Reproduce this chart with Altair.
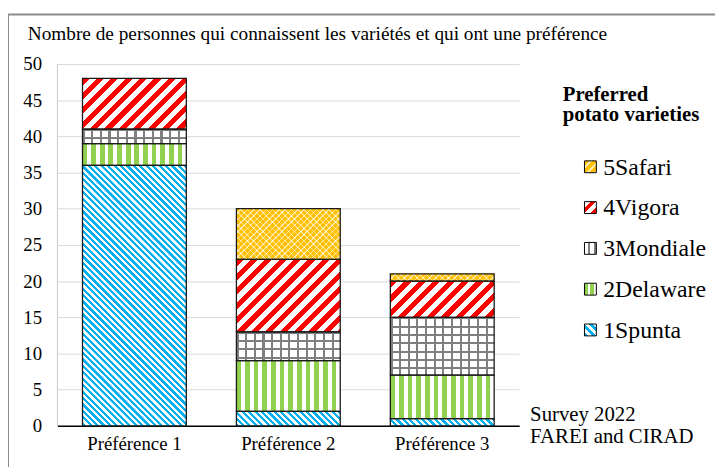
import altair as alt
import pandas as pd

# ---------------- data ----------------
prefs = ["Préférence 1", "Préférence 2", "Préférence 3"]
varieties = ["1Spunta", "2Delaware", "3Mondiale", "4Vigora", "5Safari"]
spunta = [36, 2, 1]
delaware = [3, 7, 6]
mondiale = [2, 4, 8]
vigora = [7, 10, 5]
safari = [0, 7, 1]
y_ticks = list(range(0, 51, 5))
title_text = "Nombre de personnes qui connaissent les variétés et qui ont une préférence"
legend_title = ["Preferred", "potato varieties"]
note_text = ["Survey 2022", "FAREI and CIRAD"]

series = [spunta, delaware, mondiale, vigora, safari]
rows = []
for vi, (v, vals) in enumerate(zip(varieties, series)):
    for p, val in zip(prefs, vals):
        rows.append({"pref": p, "variety": v, "value": val, "order": vi})
df = pd.DataFrame(rows)

# legend entries, top to bottom
leg_domain = list(reversed(varieties))
leg_df = pd.DataFrame({"variety": leg_domain, "i": list(range(len(leg_domain)))})

# ---------------- geometry / styles ----------------
W, H = 467, 366
YMAX = 50
PX = H / YMAX
BW = 105.0
PAD_IN = 1 - BW / (W / 3)
FONT = "Liberation Serif"

BLUE = "#00b0f0"
GREEN = "#92d050"
GRAY = "#7f7f7f"
RED = "#ff0000"
ORANGE = "#ffc000"
CLEAR = "rgba(255,255,255,0)"


def stops(period, n):
    parts = []
    for k in range(n):
        acc = 0.0
        for col, frac in period:
            parts.append("{offset:%.5f,color:'%s'}" % ((k + acc) / n, col))
            acc += frac
            parts.append("{offset:%.5f,color:'%s'}" % ((k + acc) / n, col))
    return "[" + ",".join(parts) + "]"


def diag_up(period, n, pperp):
    # "/" stripes at 45 degrees in pixel space
    L = n * pperp
    k = 1.41421356 * L
    D = "(%.3f+datum.h*datum.h)" % (BW * BW)
    return ("{gradient:'linear',x1:0,y1:0,x2:%.4f/%s,y2:%.4f*datum.h/%s,stops:%s}"
            % (k * BW, D, k, D, stops(period, n)))


def diag_down(period, n, pperp):
    # "\" stripes at 45 degrees in pixel space
    L = n * pperp
    k = 1.41421356 * L
    D = "(%.3f+datum.h*datum.h)" % (BW * BW)
    return ("{gradient:'linear',x1:1,y1:0,x2:1-%.4f/%s,y2:%.4f*datum.h/%s,stops:%s}"
            % (k * BW, D, k, D, stops(period, n)))


def vert(period, n):
    return "{gradient:'linear',x1:0,y1:0,x2:1,y2:0,stops:%s}" % stops(period, n)


def horiz(period, n, p):
    L = n * p
    return ("{gradient:'linear',x1:0,y1:0,x2:0.000001,y2:%.4f/datum.h,stops:%s}"
            % (L, stops(period, n)))


g_spunta = diag_down([(BLUE, 0.5), ("#ffffff", 0.5)], 60, 4.6)
g_delaware = vert([(GREEN, 0.55), ("#ffffff", 0.45)], 12)
g_mondiale_v = vert([(GRAY, 0.25), ("#ffffff", 0.75)], 12)
g_mondiale_h = horiz([(GRAY, 0.25), (CLEAR, 0.75)], 10, 8.4)
g_vigora = diag_up([(RED, 0.5), ("#ffffff", 0.5)], 30, 10.3)
g_safari = diag_up([(ORANGE, 0.75), ("#ffe6a0", 0.25)], 40, 4.5)
g_safari_o = diag_down([(CLEAR, 0.75), ("rgba(255,255,255,0.5)", 0.25)], 40, 4.5)

base_expr = ("datum.variety==='1Spunta'?%s:datum.variety==='2Delaware'?%s:"
             "datum.variety==='3Mondiale'?%s:datum.variety==='4Vigora'?%s:%s"
             % (g_spunta, g_delaware, g_mondiale_v, g_vigora, g_safari))
over_expr = ("datum.variety==='3Mondiale'?%s:datum.variety==='5Safari'?%s:'transparent'"
             % (g_mondiale_h, g_safari_o))

# small patterned legend swatches
s_safari = "{gradient:'linear',x1:0,y1:0,x2:1,y2:1,stops:%s}" % stops([(ORANGE, 0.65), ("#ffe9a8", 0.35)], 3)
s_vigora = "{gradient:'linear',x1:0,y1:0,x2:1,y2:1,stops:%s}" % stops([("#ffffff", 0.5), (RED, 0.5)], 2)
s_mondiale = "{gradient:'linear',x1:0,y1:0,x2:1,y2:0,stops:%s}" % stops([("#ffffff", 0.6), (GRAY, 0.4)], 2)
s_delaware = "{gradient:'linear',x1:0,y1:0,x2:1,y2:0,stops:%s}" % stops([(GREEN, 0.6), ("#ffffff", 0.4)], 2)
s_spunta = "{gradient:'linear',x1:0,y1:1,x2:1,y2:0,stops:%s}" % stops([(BLUE, 0.5), ("#ffffff", 0.5)], 3)
swatch_expr = ("datum.variety==='1Spunta'?%s:datum.variety==='2Delaware'?%s:"
               "datum.variety==='3Mondiale'?%s:datum.variety==='4Vigora'?%s:%s"
               % (s_spunta, s_delaware, s_mondiale, s_vigora, s_safari))

LEG_Y0 = 104      # centre of first legend row, px below plot top
LEG_STEP = 41.25  # px between legend rows

x_enc = alt.X(
    "pref:N", sort=prefs,
    scale=alt.Scale(paddingInner=PAD_IN, paddingOuter=PAD_IN / 2),
    axis=alt.Axis(title=None, labelAngle=0, ticks=False, grid=False,
                  domainColor="black", domainWidth=1.5, labelPadding=9,
                  labelFont=FONT, labelFontSize=19, labelColor="black"),
)
y_enc = alt.Y(
    "y0:Q", scale=alt.Scale(domain=[0, YMAX], nice=False),
    axis=alt.Axis(title=None, values=y_ticks, ticks=False, grid=True,
                  gridColor="#d9d9d9", gridWidth=1, domain=False,
                  labelPadding=16,
                  labelFont=FONT, labelFontSize=19, labelColor="black"),
)

base = (
    alt.Chart(df)
    .transform_filter("datum.value > 0")
    .transform_stack(stack="value", groupby=["pref"], as_=["y0", "y1"],
                     sort=[alt.SortField("order", order="ascending")])
    .transform_calculate(h="datum.value * %.5f" % PX)
)

pattern_layer = base.transform_calculate(g=base_expr).mark_bar(strokeWidth=0).encode(
    x=x_enc, y=y_enc, y2="y1:Q",
    fill=alt.Fill("g:N", scale=None, legend=None),
)

over_layer = base.transform_calculate(g2=over_expr).mark_bar(
    stroke="#1a1a1a", strokeWidth=1.3).encode(
    x=x_enc, y=y_enc, y2="y1:Q",
    fill=alt.Fill("g2:N", scale=None, legend=None),
)

leg_base = alt.Chart(leg_df).transform_calculate(
    py="%s + %s * datum.i" % (LEG_Y0, LEG_STEP),
    ty="%s + %s * datum.i + 8" % (LEG_Y0, LEG_STEP),
    sw=swatch_expr,
)

leg_symbols = leg_base.mark_square(size=144, filled=True, opacity=1,
                                   stroke="black", strokeWidth=1).encode(
    x=alt.value(539),
    y=alt.Y("py:Q", scale=None),
    fill=alt.Fill("sw:N", scale=None, legend=None),
)

leg_labels = leg_base.mark_text(align="left", baseline="alphabetic", font=FONT,
                                fontSize=24, color="black").encode(
    x=alt.value(552),
    y=alt.Y("ty:Q", scale=None),
    text="variety:N",
)

one = alt.Data(values=[{"k": 1}])

frame_top = alt.Chart(one).mark_rule(color="#8c8c8c", strokeWidth=2).encode(
    x=alt.value(-50), x2=alt.value(760), y=alt.value(-50)
)
frame_left = alt.Chart(one).mark_rule(color="#8c8c8c", strokeWidth=2).encode(
    x=alt.value(-50), y=alt.value(-50), y2=alt.value(480)
)
y_line = alt.Chart(one).mark_rule(color="#c8c8c8", strokeWidth=1).encode(
    x=alt.value(0), y=alt.value(0), y2=alt.value(H)
)

title = alt.Chart(one).mark_text(align="left", baseline="alphabetic", font=FONT,
                                 fontSize=19.5, color="black").encode(
    x=alt.value(-30), y=alt.value(-24), text=alt.value(title_text)
)

leg_title = alt.Chart(one).mark_text(align="left", baseline="alphabetic", font=FONT,
                                     fontSize=21, fontWeight="bold", lineHeight=21,
                                     color="black").encode(
    x=alt.value(511), y=alt.value(37), text=alt.value(legend_title)
)

note = alt.Chart(one).mark_text(align="left", baseline="alphabetic", font=FONT,
                                fontSize=21, lineHeight=22, color="black").encode(
    x=alt.value(478), y=alt.value(361), text=alt.value(note_text)
)

chart = (
    alt.layer(frame_top, frame_left, y_line, pattern_layer, over_layer,
              leg_symbols, leg_labels, title, leg_title, note)
    .properties(width=W, height=H, background="white",
                autosize=alt.AutoSizeParams(type="none"),
                padding={"left": 50, "top": 54, "right": 198, "bottom": 39})
    .configure(font=FONT, view=alt.ViewConfig(stroke="transparent", strokeWidth=0))
)

chart.save("out.html", embed_options={"renderer": "svg", "actions": False})
